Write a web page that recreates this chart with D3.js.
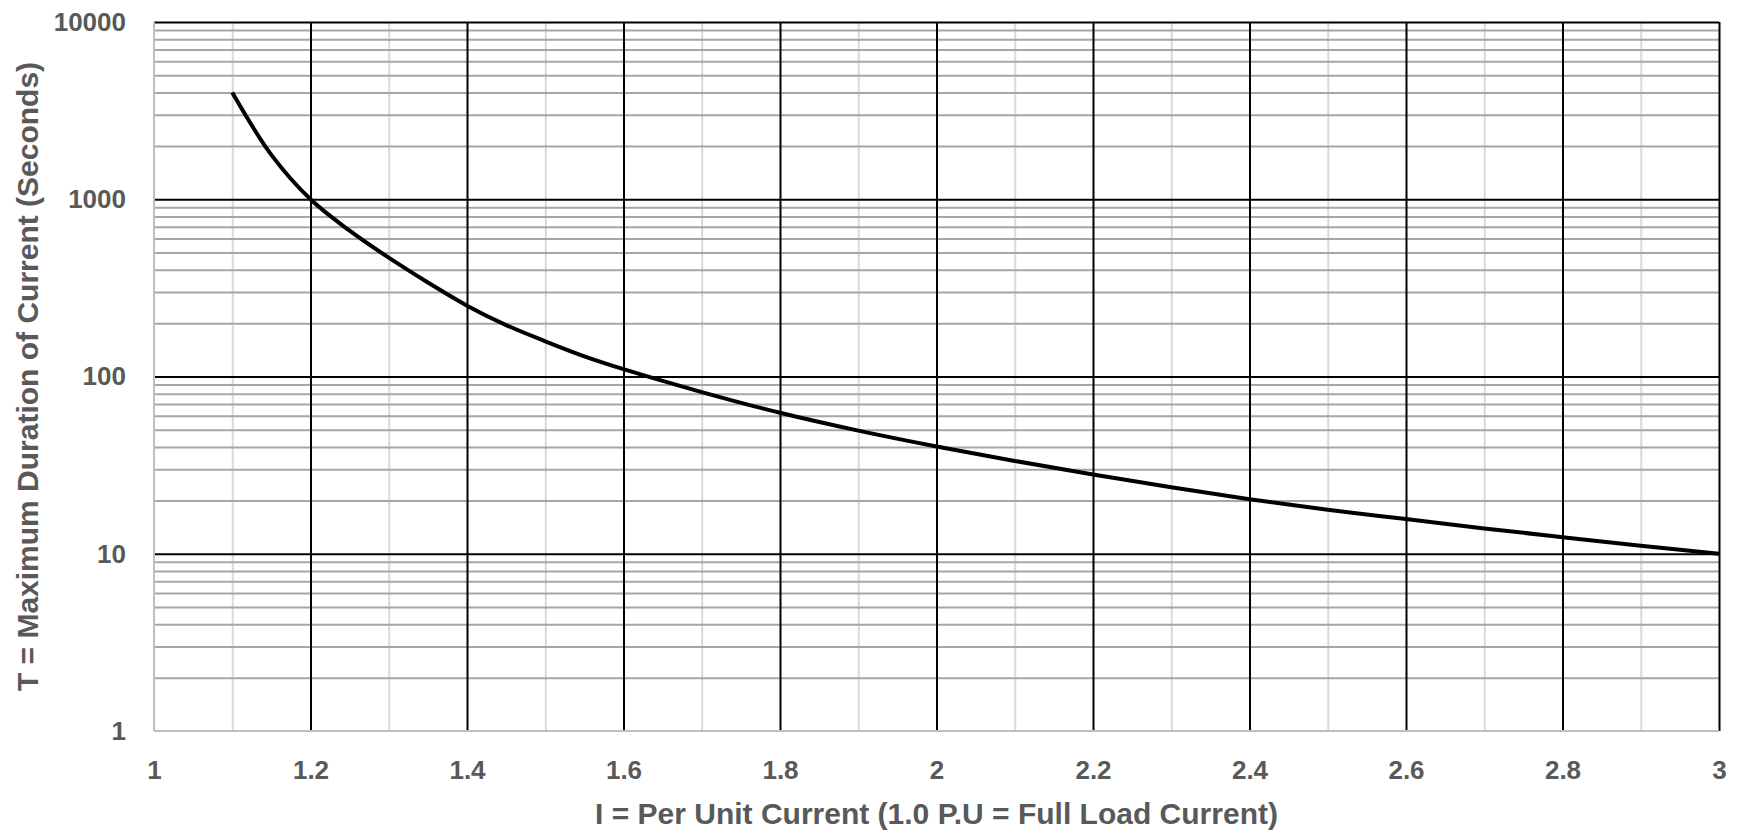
<!DOCTYPE html>
<html>
<head>
<meta charset="utf-8">
<script src="https://cdn.jsdelivr.net/npm/d3@7"></script>
<style>
  body { margin: 0; background: #fff; }
  text { font-family: "Liberation Sans", Arial, sans-serif; font-weight: bold; fill: #595959; }
</style>
</head>
<body>
<div id="container"></div>
<script>
const width = 1740;
const height = 830;
const margin = { top: 22, right: 21, bottom: 99, left: 154 };

// per unit current vs maximum duration
const currentPU = [1.1, 1.15, 1.2, 1.25, 1.3, 1.35, 1.4, 1.45, 1.5, 1.55, 1.6, 1.7, 1.8, 1.9, 2.0, 2.1, 2.2, 2.3, 2.4, 2.5, 2.6, 2.7, 2.8, 2.9, 3.0];
const durationSec = [4000, 1780, 1000, 665, 468, 339, 251, 195, 158, 130, 110, 81.7, 62.4, 49.5, 40.3, 33.4, 28, 23.7, 20.3, 17.7, 15.7, 13.9, 12.4, 11.1, 10];

const xTicks = [1, 1.2, 1.4, 1.6, 1.8, 2, 2.2, 2.4, 2.6, 2.8, 3];
const xMinorTicks = [1.1, 1.3, 1.5, 1.7, 1.9, 2.1, 2.3, 2.5, 2.7, 2.9];
const yTicks = [1, 10, 100, 1000, 10000];
const yMinorTicks = [1, 10, 100, 1000].flatMap(d => [2, 3, 4, 5, 6, 7, 8, 9].map(k => d * k));

const xLabel = "I = Per Unit Current (1.0 P.U = Full Load Current)";
const yLabel = "T = Maximum Duration of Current (Seconds)";

const innerW = width - margin.left - margin.right;
const innerH = height - margin.top - margin.bottom;

const x = d3.scaleLinear().domain([1, 3]).range([0, innerW]);
const y = d3.scaleLog().domain([1, 10000]).range([innerH, 0]);

const svg = d3.select("#container")
  .append("svg")
  .attr("width", width)
  .attr("height", height);

const g = svg.append("g").attr("transform", `translate(${margin.left},${margin.top})`);

// gridlines
function grid(axis, color, w) {
  const sel = g.append("g").call(axis);
  sel.select(".domain").remove();
  sel.selectAll("line").attr("stroke", color).attr("stroke-width", w);
  sel.selectAll("text").remove();
  return sel;
}

grid(d3.axisBottom(x).tickValues(xMinorTicks).tickSize(-innerH).tickFormat(""), "#d9d9d9", 2)
  .attr("transform", `translate(0,${innerH})`);
grid(d3.axisLeft(y).tickValues(yMinorTicks).tickSize(-innerW).tickFormat(""), "#a6a6a6", 2);
grid(d3.axisBottom(x).tickValues(xTicks.slice(1)).tickSize(-innerH).tickFormat(""), "#000", 2)
  .attr("transform", `translate(0,${innerH})`);
grid(d3.axisLeft(y).tickValues(yTicks.slice(1)).tickSize(-innerW).tickFormat(""), "#000", 2);

// axis lines
g.append("line").attr("x1", 0).attr("x2", 0).attr("y1", 0).attr("y2", innerH)
  .attr("stroke", "#bfbfbf").attr("stroke-width", 2);
g.append("line").attr("x1", 0).attr("x2", innerW).attr("y1", innerH).attr("y2", innerH)
  .attr("stroke", "#bfbfbf").attr("stroke-width", 2);

// tick labels
const xAxis = g.append("g")
  .attr("transform", `translate(0,${innerH})`)
  .call(d3.axisBottom(x).tickValues(xTicks).tickSize(0).tickPadding(30).tickFormat(d3.format("")));
xAxis.select(".domain").remove();
xAxis.selectAll("text").style("font-size", "26px").attr("fill", "#595959");

const yAxis = g.append("g")
  .call(d3.axisLeft(y).tickValues(yTicks).tickSize(0).tickPadding(28).tickFormat(d3.format("")));
yAxis.select(".domain").remove();
yAxis.selectAll("text").style("font-size", "26px").attr("fill", "#595959");

// curve
const line = d3.line()
  .x((d, i) => x(currentPU[i]))
  .y(d => y(d))
  .curve(d3.curveCatmullRom);

g.append("path")
  .datum(durationSec)
  .attr("fill", "none")
  .attr("stroke", "#000")
  .attr("stroke-width", 4)
  .attr("d", line);

// axis titles
svg.append("text")
  .attr("x", margin.left + innerW / 2)
  .attr("y", 824)
  .attr("text-anchor", "middle")
  .style("font-size", "30px")
  .text(xLabel);

svg.append("text")
  .attr("transform", `translate(38,${margin.top + innerH / 2}) rotate(-90)`)
  .attr("text-anchor", "middle")
  .style("font-size", "30px")
  .text(yLabel);
</script>
</body>
</html>
